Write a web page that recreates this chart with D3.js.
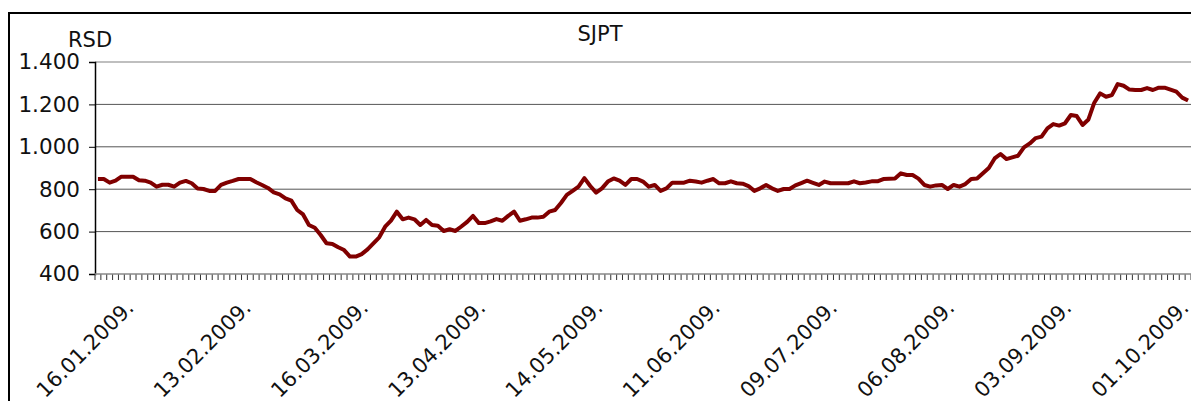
<!DOCTYPE html>
<html>
<head>
<meta charset="utf-8">
<script src="https://cdn.jsdelivr.net/npm/d3@7"></script>
<style>
body{margin:0;background:#fff;}
svg{display:block;font-family:"DejaVu Sans",Verdana,sans-serif;}
</style>
</head>
<body>
<svg id="chart"></svg>
<script>
// SJPT closing prices, RSD, one value per trading day
const prices = [
 848,848,831,840,859,859,859,842,840,831,
 812,821,821,812,831,839,828,803,801,792,
 792,820,831,839,848,848,848,833,820,806,
 785,776,757,746,702,681,631,618,584,545,
 542,526,513,482,482,494,516,545,573,623,
 652,694,658,666,658,631,655,631,628,603,
 611,603,624,646,674,640,640,648,659,651,
 674,694,651,658,666,666,670,694,702,735,
 773,792,812,852,815,784,804,836,851,840,
 820,848,848,836,812,820,792,804,831,831,
 831,840,836,831,840,848,828,828,837,828,
 826,815,792,804,820,804,792,801,801,818,
 829,840,830,820,836,828,828,828,828,837,
 828,832,837,837,848,849,850,875,867,867,
 850,820,812,818,820,801,820,812,824,848,
 850,875,900,945,966,942,950,958,997,1016,
 1041,1048,1087,1107,1100,1111,1150,1145,1103,1129,
 1208,1252,1236,1244,1296,1288,1270,1268,1268,1277,
 1268,1279,1279,1270,1260,1232,1218
];
const tickLabels = ["16.01.2009.","13.02.2009.","16.03.2009.","13.04.2009.","14.05.2009.",
                    "11.06.2009.","09.07.2009.","06.08.2009.","03.09.2009.","01.10.2009."];
const labelFirst = 6, labelStep = 20;
const yTicks = [400,600,800,1000,1200,1400];

var width = 1191, height = 401;
var plotLeft = 95, plotTop = 62, plotBottom = 274, plotRight = 1191;

var svg = d3.select("#chart").attr("width", width).attr("height", height);

// outer frame (cut off on the right and bottom)
svg.append("rect")
   .attr("x", 9).attr("y", 13)
   .attr("width", 1400).attr("height", 600)
   .attr("fill", "none").attr("stroke", "#000").attr("stroke-width", 2);

var x = d3.scaleBand().domain(d3.range(prices.length)).range([plotLeft, plotRight]).padding(0);
var y = d3.scaleLinear().domain([400, 1400]).range([plotBottom, plotTop]);

var fmt = d3.formatLocale({decimal: ",", thousands: ".", grouping: [3], currency: ["", ""]}).format(",d");

// gridlines
svg.append("g").selectAll("line")
   .data(yTicks.filter(d => d > 400))
   .join("line")
   .attr("x1", plotLeft).attr("x2", plotRight)
   .attr("y1", d => y(d)).attr("y2", d => y(d))
   .attr("stroke", d => d == 1400 ? "#aaa" : "#555")
   .attr("stroke-width", d => d == 1400 ? 1.5 : 1);

// y axis
var yAxis = svg.append("g")
   .attr("transform", "translate(" + plotLeft + ",0)")
   .call(d3.axisLeft(y).tickValues(yTicks).tickFormat(fmt).tickSize(6).tickPadding(9));
yAxis.select(".domain").attr("stroke", "#000").attr("stroke-width", 1.5);
yAxis.selectAll(".tick line").attr("stroke", "#000");
yAxis.selectAll("text").attr("font-size", 21.5).attr("fill", "#111")
     .attr("font-family", "DejaVu Sans, Verdana, sans-serif");

// x axis: tick marks between categories
var bounds = d3.range(prices.length + 1).map(i => plotLeft + i * x.bandwidth());
svg.append("g").selectAll("line")
   .data(bounds)
   .join("line")
   .attr("x1", d => d).attr("x2", d => d)
   .attr("y1", plotBottom).attr("y2", plotBottom + 6)
   .attr("stroke", "#333").attr("stroke-width", 1);
svg.append("line")
   .attr("x1", plotLeft).attr("x2", plotRight)
   .attr("y1", plotBottom).attr("y2", plotBottom)
   .attr("stroke", "#888").attr("stroke-width", 1.5);

// rotated date labels
svg.append("g").selectAll("text")
   .data(tickLabels)
   .join("text")
   .attr("transform", (d, i) => "translate(" + (x(labelFirst + i * labelStep) + x.bandwidth() / 2 + 2) + "," + 309 + ") rotate(-45)")
   .attr("text-anchor", "end")
   .attr("font-size", 21)
   .attr("fill", "#111")
   .text(d => d);

// price line
var line = d3.line()
   .x((d, i) => x(i) + x.bandwidth() / 2)
   .y(d => y(d));
svg.append("path")
   .datum(prices)
   .attr("fill", "none")
   .attr("stroke", "#800000")
   .attr("stroke-width", 4)
   .attr("stroke-linejoin", "round")
   .attr("d", line);

// titles
svg.append("text")
   .attr("x", 600).attr("y", 41)
   .attr("text-anchor", "middle")
   .attr("font-size", 21).attr("fill", "#111")
   .text("SJPT");
svg.append("text")
   .attr("x", 68).attr("y", 47)
   .attr("font-size", 21).attr("fill", "#111")
   .text("RSD");
</script>
</body>
</html>
